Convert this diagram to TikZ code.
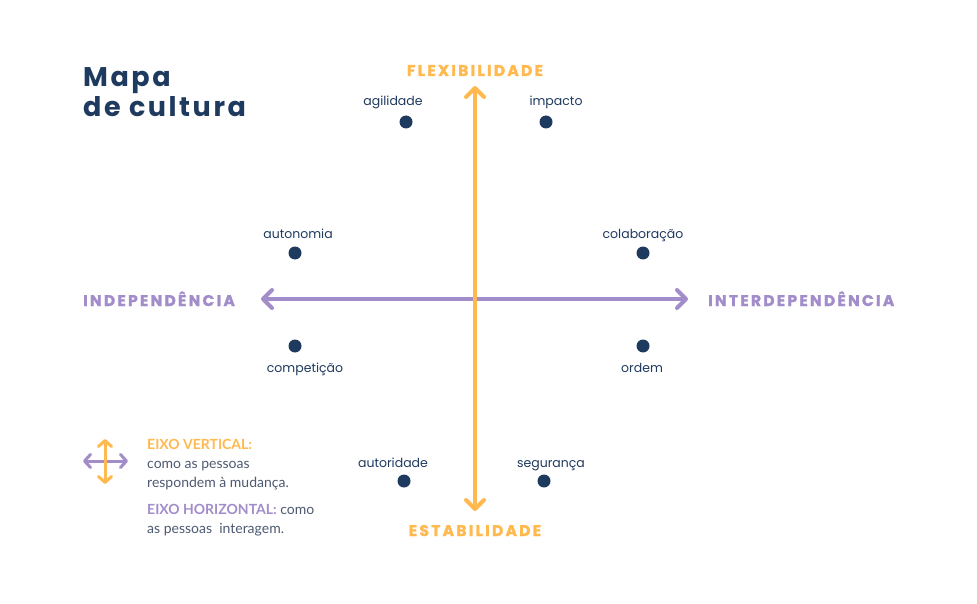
\documentclass[tikz,border=0pt]{standalone}
\usepackage{fontspec}
\setmainfont{Poppins}
\newfontfamily\lato{Lato}
\newfontfamily\titlefont{Poppins}[LetterSpace=9.5]
\newfontfamily\axfont{Poppins}[LetterSpace=14.5, BoldFeatures={FakeBold=1.5}]
\usetikzlibrary{arrows.meta}
\definecolor{cmnavy}{HTML}{1F3A5F}
\definecolor{cmorange}{HTML}{FFB94F}
\definecolor{cmpurple}{HTML}{A28DCA}
\definecolor{cmgray}{HTML}{4E5A72}
\begin{document}
\begin{tikzpicture}[x=1pt,y=-1pt,
  dot/.style={circle,fill=cmnavy,minimum size=13pt,inner sep=0pt},
  lbl/.style={font=\fontsize{12.5}{14}\selectfont,text=cmnavy,inner sep=0pt,anchor=base},
  axlbl/.style={font=\axfont\fontsize{15.5}{18}\selectfont\bfseries,inner sep=0pt,anchor=base},
  ttl/.style={font=\titlefont\bfseries\fontsize{27}{30}\selectfont,text=cmnavy,inner sep=0pt,anchor=base west},
  bigarrow/.style={line width=4pt,{Straight Barb[length=9pt,width=18pt,round]}-{Straight Barb[length=9pt,width=18pt,round]}},
  smallarrow/.style={line width=3pt,{Straight Barb[length=6pt,width=13pt,round]}-{Straight Barb[length=6pt,width=13pt,round]}},
  legtext/.style={font=\lato\fontsize{14}{19}\selectfont,text=cmgray,inner sep=0pt,anchor=base west}
]
\useasboundingbox (0,0) rectangle (977,604);
\fill[white] (0,0) rectangle (977,604);

% title
\node[ttl] (title1) at (83,87) {Mapa};
\node[ttl] (title2) at (83,117) {de cultura};

% axes
\coordinate (vtop) at (475,86);
\coordinate (vbot) at (475,511);
\coordinate (hleft) at (261,299);
\coordinate (hright) at (688,299);
\draw[bigarrow,cmpurple] (hleft) -- (hright);
\draw[bigarrow,cmorange] (vbot) -- (vtop);

% axis labels
\node[axlbl,text=cmorange] (flex) at (475,76) {FLEXIBILIDADE};
\node[axlbl,text=cmorange] (estab) at (475,536) {ESTABILIDADE};
\node[axlbl,text=cmpurple,anchor=base west] (indep) at (83,306) {INDEPENDÊNCIA};
\node[axlbl,text=cmpurple,anchor=base west] (interdep) at (708,306) {INTERDEPENDÊNCIA};

% dots and labels
\node[dot] (dagil) at (406,122) {};
\node[lbl] (lagil) at (393,106) {agilidade};
\node[dot] (dimp) at (546,122) {};
\node[lbl] (limp) at (556,106) {impacto};
\node[dot] (daut) at (295,253) {};
\node[lbl] (laut) at (298,238) {autonomia};
\node[dot] (dcol) at (643,253) {};
\node[lbl] (lcol) at (643,238) {colaboração};
\node[dot] (dcomp) at (295,346) {};
\node[lbl] (lcomp) at (305,372) {competição};
\node[dot] (dord) at (643,346) {};
\node[lbl] (lord) at (642,372) {ordem};
\node[dot] (dautor) at (404,481) {};
\node[lbl] (lautor) at (393,467) {autoridade};
\node[dot] (dseg) at (544,481) {};
\node[lbl] (lseg) at (551,467) {segurança};

% legend
\coordinate (lgtop) at (105,439);
\coordinate (lgbot) at (105,484);
\coordinate (lgleft) at (83,461);
\coordinate (lgright) at (128,461);
\draw[smallarrow,cmpurple] (lgleft) -- (lgright);
\draw[smallarrow,cmorange] (lgbot) -- (lgtop);
\node[legtext,text=cmorange,font=\lato\bfseries\fontsize{14}{19}\selectfont] (leg1) at (147,449) {EIXO VERTICAL:};
\node[legtext] (leg2) at (147,468) {como as pessoas};
\node[legtext] (leg3) at (147,487) {respondem à mudança.};
\node[legtext] (leg4) at (147,514) {\textcolor{cmpurple}{\bfseries EIXO HORIZONTAL:} como};
\node[legtext] (leg5) at (147,533) {as pessoas\ \ interagem.};
\end{tikzpicture}
\end{document}
